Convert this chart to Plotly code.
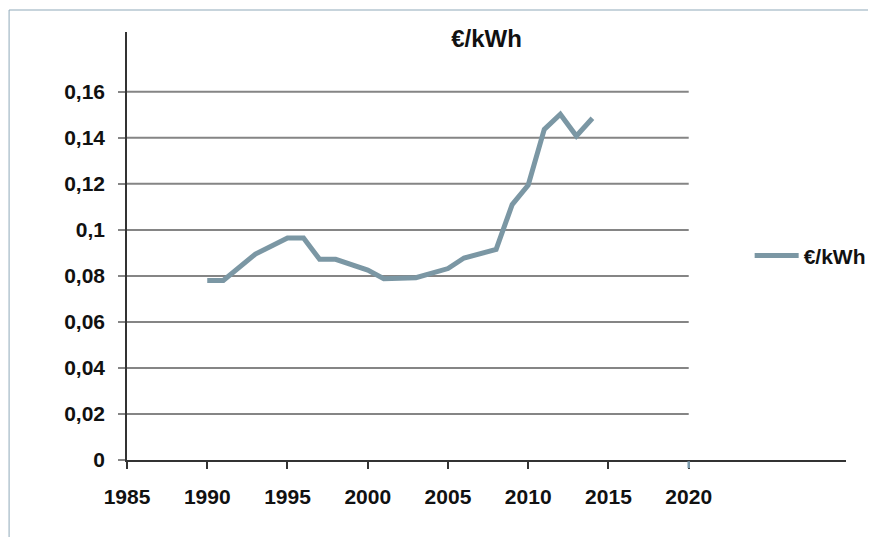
import plotly.graph_objects as go

years = [1990, 1991, 1993, 1995, 1996, 1997, 1998, 2000, 2001, 2003, 2005, 2006, 2008, 2008.5, 2009, 2010, 2011, 2012, 2013, 2014]
price = [0.078, 0.078, 0.0895, 0.0965, 0.0965, 0.0872, 0.0872, 0.0825, 0.0788, 0.0792, 0.0832, 0.0878, 0.0915, 0.101, 0.111, 0.1195, 0.1437, 0.1503, 0.1408, 0.1485]

x_ticks = [1985, 1990, 1995, 2000, 2005, 2010, 2015, 2020]
y_ticks = [0, 0.02, 0.04, 0.06, 0.08, 0.1, 0.12, 0.14, 0.16]
y_labels = ["0", "0,02", "0,04", "0,06", "0,08", "0,1", "0,12", "0,14", "0,16"]

line_col = "#7b97a4"
font = dict(family="Liberation Sans, Arial, sans-serif", size=21, color="#111111", weight="bold")

fig = go.Figure(go.Scatter(x=years, y=price, mode="lines", name="€/kWh",
                           line=dict(color=line_col, width=5)))

# horizontal gridlines only reach the 2020 tick
for v in y_ticks[1:]:
    fig.add_shape(type="line", xref="x", yref="y", x0=x_ticks[0], x1=x_ticks[-1], y0=v, y1=v,
                  line=dict(color="#858585", width=2), layer="below")

# coloured tick at 2020
fig.add_shape(type="line", xref="x", yref="paper", x0=x_ticks[-1], x1=x_ticks[-1], y0=-0.003, y1=-0.019,
              line=dict(color="#7f9eb0", width=2.5))

# frame around the page
fig.add_shape(type="rect", xref="paper", yref="paper", x0=-0.164, x1=1.2, y0=-0.3, y1=1.0514,
              line=dict(color="#8fa9b9", width=1))

fig.update_layout(
    width=868, height=529,
    margin=dict(l=119, r=30, t=24, b=77, autoexpand=False),
    paper_bgcolor="white", plot_bgcolor="white",
    font=font,
    title=dict(text="€/kWh", x=0.5, xref="paper", y=1 - 31 / 529, yref="container",
               xanchor="center", yanchor="middle", font=dict(size=24, weight="bold", color="#111111")),
    showlegend=True,
    legend=dict(x=0.866, y=0.477, xanchor="left", yanchor="middle", bgcolor="rgba(0,0,0,0)",
                font=dict(size=21, weight="bold", color="#111111"), itemwidth=44),
    xaxis=dict(range=[1985, 2029.8], tickvals=x_ticks, ticktext=[str(t) for t in x_ticks],
               showgrid=False, zeroline=False, showline=True, linecolor="#333333", linewidth=2,
               ticks="outside", ticklen=7, tickcolor="#333333", tickwidth=1.5, ticklabelstandoff=10),
    yaxis=dict(range=[0, 0.186], tickvals=y_ticks, ticktext=y_labels,
               showgrid=False, zeroline=False, showline=True, linecolor="#333333", linewidth=1.5,
               ticks="outside", ticklen=7, tickcolor="#858585", tickwidth=2, ticklabelstandoff=9),
)

fig.write_html("out.html")
